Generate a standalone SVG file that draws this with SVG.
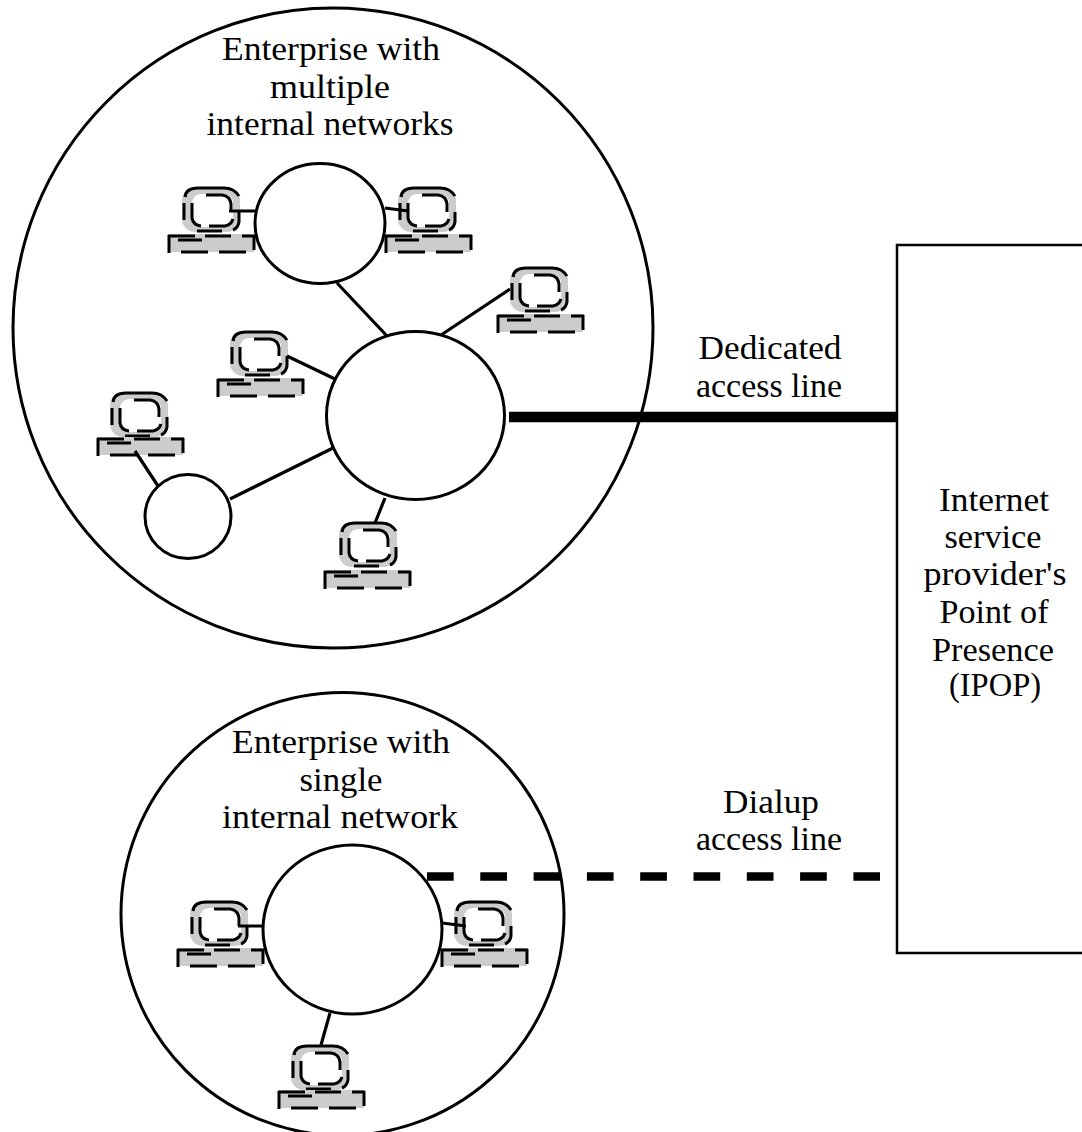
<svg xmlns="http://www.w3.org/2000/svg" width="1082" height="1132" viewBox="0 0 1082 1132">
<style>
.o{fill:#fff;stroke:#000;stroke-width:3}
.c{fill:none;stroke:#000;stroke-width:3.2}
.k{fill:none;stroke:#000;stroke-width:3}
.g{fill:#ccc}
text{font-family:"Liberation Serif",serif;font-size:34px;fill:#000;text-anchor:middle}
</style>
<defs>
<g id="scr">
<rect class="g" x="0" y="0" width="58" height="45" rx="13"/>
<rect x="10" y="7" width="41" height="33" rx="9" fill="#fff"/>
<path class="k" d="M3,10Q4,1 16,1H42Q52,1 57,9M2,16V33M57,25V35Q56,41 51,43M15,44H40"/>
<path class="k" d="M10,16V31Q11,38 19,39M24,8H40Q48,9 49,17V25M51,32Q49,38 43,39H27"/>
</g>
<g id="base">
<rect class="g" x="1" y="0" width="85" height="18"/>
<path class="k" d="M0,2H27M37,2H63M74,2H87M1,1V19M86,1V16M13,18H40M51,18H78M10,6H34"/>
</g>
</defs>
<g id="enterprise-multi"><circle class="o" cx="333" cy="328" r="320"/></g>
<g id="enterprise-single"><circle class="o" cx="342.5" cy="914" r="221.5"/></g>
<g id="pc1"><use href="#scr" x="182" y="187"/><use href="#base" x="168" y="234"/></g>
<g id="pc2"><use href="#scr" x="398" y="187"/><use href="#base" x="385" y="234"/></g>
<g id="pc3"><use href="#scr" x="510" y="267"/><use href="#base" x="497" y="314"/></g>
<g id="pc4"><use href="#scr" x="230" y="331"/><use href="#base" x="217" y="378"/></g>
<g id="pc5"><use href="#scr" x="110" y="392"/><use href="#base" x="97" y="437"/></g>
<g id="pc6"><use href="#scr" x="339" y="522"/><use href="#base" x="324" y="570"/></g>
<g id="pc7"><use href="#scr" x="190" y="901"/><use href="#base" x="177" y="948"/></g>
<g id="pc8"><use href="#scr" x="454" y="901"/><use href="#base" x="441" y="948"/></g>
<g id="pc9"><use href="#scr" x="291" y="1045"/><use href="#base" x="278" y="1090"/></g>
<g id="connectors" class="c">
<path d="M229,211H255M385,208L408,211M337,283L387,336M441,335L510,289M287,356L335,379M135,451L158,486M230,499L333,448M385,498L375,523M238,926H263M442,923L466,926M330,1013L321,1045"/>
<path d="M509,417H897" stroke-width="10.5"/>
<path d="M427,876.5H880" stroke-width="8.5" stroke-dasharray="26.7 26.6"/>
</g>
<g id="net-a"><ellipse class="o" cx="320" cy="223.5" rx="65" ry="60"/></g>
<g id="net-b"><ellipse class="o" cx="415.5" cy="415.5" rx="89" ry="84"/></g>
<g id="net-c"><ellipse class="o" cx="188" cy="516.5" rx="43" ry="42"/></g>
<g id="net-d"><ellipse class="o" cx="352.5" cy="929.5" rx="89.5" ry="84.5"/></g>
<g id="isp">
<path d="M1082,245H897V953H1082" fill="none" stroke="#000" stroke-width="2.5"/>
<text x="994" y="511" textLength="110" lengthAdjust="spacingAndGlyphs">Internet</text>
<text x="993" y="548" textLength="97" lengthAdjust="spacingAndGlyphs">service</text>
<text x="995" y="585" textLength="143" lengthAdjust="spacingAndGlyphs">provider's</text>
<text x="994" y="623" textLength="109" lengthAdjust="spacingAndGlyphs">Point of</text>
<text x="993" y="661" textLength="122" lengthAdjust="spacingAndGlyphs">Presence</text>
<text x="995" y="696" textLength="92" lengthAdjust="spacingAndGlyphs">(IPOP)</text>
</g>
<g id="labels">
<text x="331" y="60" textLength="218" lengthAdjust="spacingAndGlyphs">Enterprise with</text>
<text x="330" y="98" textLength="120" lengthAdjust="spacingAndGlyphs">multiple</text>
<text x="330" y="135" textLength="247" lengthAdjust="spacingAndGlyphs">internal networks</text>
<text x="770" y="359" textLength="143" lengthAdjust="spacingAndGlyphs">Dedicated</text>
<text x="769" y="397" textLength="146" lengthAdjust="spacingAndGlyphs">access line</text>
<text x="341" y="753" textLength="218" lengthAdjust="spacingAndGlyphs">Enterprise with</text>
<text x="341" y="791" textLength="83" lengthAdjust="spacingAndGlyphs">single</text>
<text x="340" y="828" textLength="236" lengthAdjust="spacingAndGlyphs">internal network</text>
<text x="771" y="813" textLength="96" lengthAdjust="spacingAndGlyphs">Dialup</text>
<text x="769" y="850" textLength="146" lengthAdjust="spacingAndGlyphs">access line</text>
</g>
</svg>
